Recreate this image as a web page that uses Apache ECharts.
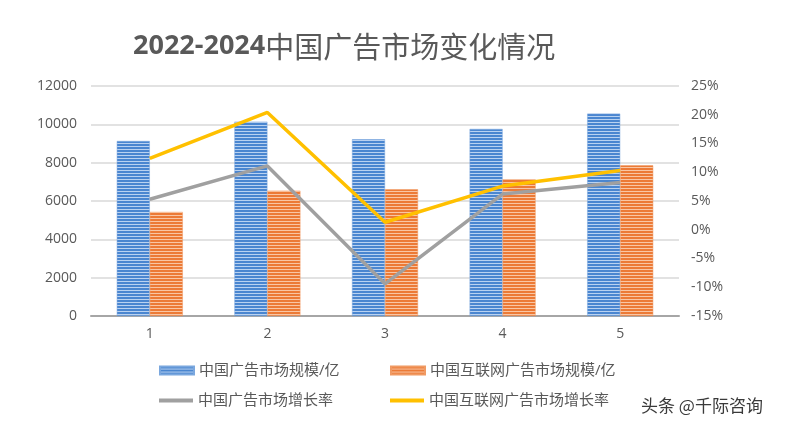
<!DOCTYPE html>
<html>
<head>
<meta charset="utf-8">
<script src="https://cdn.jsdelivr.net/npm/echarts@6/dist/echarts.min.js"></script>
<style>
  html, body { margin: 0; padding: 0; background: #fff; }
  #chart { width: 800px; height: 429px; }
</style>
</head>
<body>
<div id="chart"></div>
<script>
var categories = ['1', '2', '3', '4', '5'];
var adScale = [9130, 10140, 9220, 9760, 10560];        // 中国广告市场规模/亿
var netAdScale = [5430, 6540, 6610, 7130, 7860];       // 中国互联网广告市场规模/亿
var adGrowth = [5.3, 11.1, -9.4, 6.2, 8.2];            // 中国广告市场增长率 (%)
var netAdGrowth = [12.4, 20.4, 1.3, 7.6, 10.3];        // 中国互联网广告市场增长率 (%)

var textColor = '#595959';
var fontFamily = '"Open Sans", "Noto Sans CJK SC", sans-serif';

// horizontal stripe fill, like the office chart pattern
function stripes(dark, light) {
  var c = document.createElement('canvas');
  c.width = 4;
  c.height = 3;
  var ctx = c.getContext('2d');
  ctx.fillStyle = light;
  ctx.fillRect(0, 0, 4, 3);
  ctx.fillStyle = dark;
  ctx.fillRect(0, 0, 4, 2);
  return { image: c, repeat: 'repeat' };
}

var blueFill = stripes('#4a86d0', '#b9d2f1');
var orangeFill = stripes('#ec7a36', '#f9c6a4');

function legendAt(name, left, top, isLine) {
  return {
    data: [{ name: name, icon: 'rect' }],
    left: left,
    top: top,
    itemWidth: 34,
    itemHeight: isLine ? 4 : 8,
    itemGap: 4,
    textStyle: { color: textColor, fontSize: 15, fontFamily: fontFamily },
    selectedMode: false
  };
}

var chart = echarts.init(document.getElementById('chart'));
var option = {
  backgroundColor: '#fff',
  title: {
    text: '{a|2022-2024}{b|中国广告市场变化情况}',
    left: 128,
    top: 27,
    textStyle: {
      rich: {
        a: { color: textColor, fontSize: 27, fontWeight: 'bold', fontFamily: '"Open Sans", sans-serif' },
        b: { color: textColor, fontSize: 29, fontWeight: 'normal', fontFamily: '"Noto Sans CJK SC", sans-serif' }
      }
    }
  },
  legend: [
    legendAt('中国广告市场规模/亿', 154, 358, false),
    legendAt('中国互联网广告市场规模/亿', 385, 358, false),
    legendAt('中国广告市场增长率', 154, 388, true),
    legendAt('中国互联网广告市场增长率', 385, 388, true)
  ],
  grid: { left: 91, right: 121, top: 86, bottom: 113 },
  xAxis: {
    type: 'category',
    data: categories,
    axisLine: { lineStyle: { color: '#a6a6a6', width: 2 } },
    axisTick: { show: false },
    axisLabel: { color: textColor, fontSize: 14, margin: 11, fontFamily: fontFamily }
  },
  yAxis: [
    {
      type: 'value',
      min: 0,
      max: 12000,
      interval: 2000,
      axisLine: { show: false },
      axisTick: { show: false },
      axisLabel: {
        formatter: function (v) { return String(v); },
        color: textColor, fontSize: 14, margin: 14, fontFamily: fontFamily
      },
      splitLine: { lineStyle: { color: '#d9d9d9', width: 1.5 } }
    },
    {
      type: 'value',
      min: -15,
      max: 25,
      interval: 5,
      axisLine: { show: false },
      axisTick: { show: false },
      axisLabel: { formatter: '{value}%', color: textColor, fontSize: 14, margin: 12, fontFamily: fontFamily },
      splitLine: { show: false }
    }
  ],
  series: [
    {
      name: '中国广告市场规模/亿',
      type: 'bar',
      data: adScale,
      barWidth: 33,
      barGap: '0%',
      itemStyle: { color: blueFill, borderColor: '#7aa7de', borderWidth: 0.5 }
    },
    {
      name: '中国互联网广告市场规模/亿',
      type: 'bar',
      data: netAdScale,
      barWidth: 33,
      itemStyle: { color: orangeFill, borderColor: '#f09a63', borderWidth: 0.5 }
    },
    {
      name: '中国广告市场增长率',
      type: 'line',
      yAxisIndex: 1,
      data: adGrowth,
      showSymbol: false,
      symbol: 'none',
      itemStyle: { color: '#a0a0a0' },
      lineStyle: { color: '#a0a0a0', width: 3.5 }
    },
    {
      name: '中国互联网广告市场增长率',
      type: 'line',
      yAxisIndex: 1,
      data: netAdGrowth,
      showSymbol: false,
      symbol: 'none',
      itemStyle: { color: '#ffc000' },
      lineStyle: { color: '#ffc000', width: 3.5 }
    }
  ],
  graphic: [
    {
      type: 'text',
      left: 641,
      top: 397,
      style: { text: '头条 @千际咨询', fill: '#3a3a3a', font: '17px "Noto Sans CJK SC", sans-serif' }
    }
  ]
};
chart.setOption(option);
</script>
</body>
</html>
